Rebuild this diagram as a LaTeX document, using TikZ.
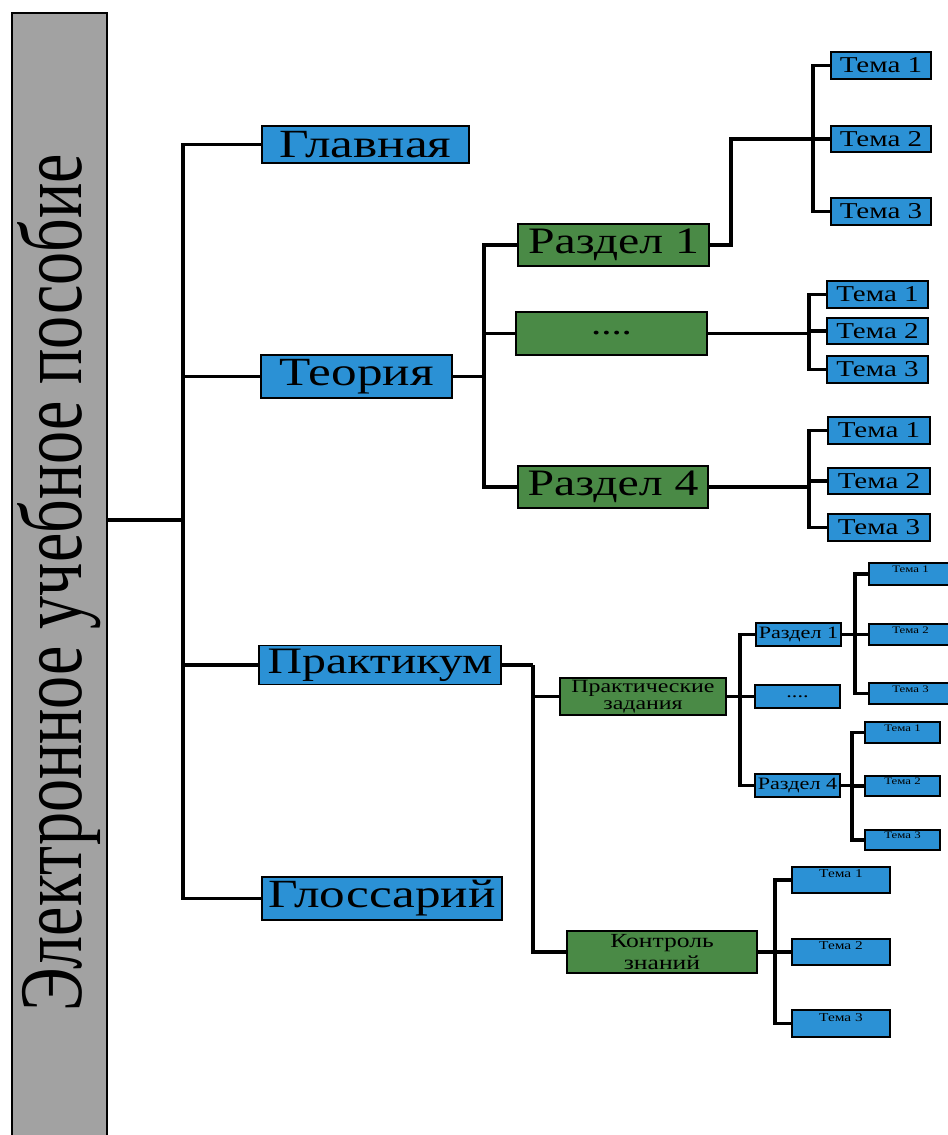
\documentclass[tikz,border=0pt]{standalone}
\usepackage{fontspec}
\setmainfont{Liberation Serif}
\newfontfamily\widefont[FakeStretch=1.28]{Liberation Serif}
\newfontfamily\narrowfont[FakeStretch=0.74]{Liberation Serif}
\definecolor{cblue}{HTML}{2B91D5}
\definecolor{cgreen}{HTML}{4A8A46}
\definecolor{cgray}{HTML}{A2A2A2}
\newcommand\fTitle{\narrowfont\fontsize{67}{67}\selectfont}
\newcommand\fMain{\widefont\fontsize{30}{30}\selectfont}
\newcommand\fPrak{\widefont\fontsize{28}{28}\selectfont}
\newcommand\fSec{\widefont\fontsize{28}{28}\selectfont}
\newcommand\fDots{\widefont\fontsize{24}{24}\selectfont}
\newcommand\fTopic{\widefont\fontsize{17}{17}\selectfont}
\newcommand\fPz{\widefont\fontsize{14}{13}\selectfont}
\newcommand\fKz{\widefont\fontsize{15}{16}\selectfont}
\newcommand\fSmall{\widefont\fontsize{13}{13}\selectfont}
\newcommand\fTiny{\widefont\fontsize{7.5}{7.5}\selectfont}
\newcommand\fCtl{\widefont\fontsize{9}{9}\selectfont}
\tikzset{
  bx/.style={draw=black, line width=1.3pt, inner sep=0pt, text=black},
  bl/.style={bx, fill=cblue},
  gr/.style={bx, fill=cgreen},
  conn/.style={line width=2.4pt, draw=black},
}
\begin{document}
\begin{tikzpicture}[x=0.75pt,y=-0.75pt]
\useasboundingbox (0,0) rectangle (948,1135);

% title
\node[bx, fill=cgray, line width=2.2pt, rotate=90, minimum width=855pt, minimum height=71.25pt,
      font=\fTitle] (title) at (59.5,583) {Электронное учебное пособие};

% level 1
\node[bl, minimum width=155.25pt, minimum height=27.75pt, font=\fMain] (glav) at (365.5,144.5) {Главная};
\node[bl, minimum width=143.25pt, minimum height=32.25pt, font=\fMain] (teor) at (356.5,376.5) {Теория};
\node[bl, minimum width=181.5pt, minimum height=29.25pt, font=\fPrak] (prak) at (380,665) {Практикум};
\node[bl, minimum width=180pt, minimum height=32.25pt, font=\fMain] (glos) at (382,898.5) {Глоссарий};

% theory sections
\node[gr, minimum width=143.25pt, minimum height=31.5pt, font=\fSec] (r1) at (613.5,245) {Раздел 1};
\node[gr, minimum width=143.25pt, minimum height=32.25pt, font=\fDots] (rd) at (611.5,333.5) {....};
\node[gr, minimum width=142.5pt, minimum height=31.5pt, font=\fSec] (r4) at (613,487) {Раздел 4};

% theory topics
\node[bl, minimum width=75pt, minimum height=20.25pt, font=\fTopic] (a1) at (881,65.5) {Тема 1};
\node[bl, minimum width=75pt, minimum height=19.5pt, font=\fTopic] (a2) at (881,139) {Тема 2};
\node[bl, minimum width=75pt, minimum height=20.25pt, font=\fTopic] (a3) at (881,211.5) {Тема 3};
\node[bl, minimum width=75.75pt, minimum height=20.25pt, font=\fTopic] (b1) at (877.5,294.5) {Тема 1};
\node[bl, minimum width=75.75pt, minimum height=19.5pt, font=\fTopic] (b2) at (877.5,331) {Тема 2};
\node[bl, minimum width=75.75pt, minimum height=20.25pt, font=\fTopic] (b3) at (877.5,369.5) {Тема 3};
\node[bl, minimum width=76.5pt, minimum height=20.25pt, font=\fTopic] (c1) at (879,430.5) {Тема 1};
\node[bl, minimum width=76.5pt, minimum height=19.5pt, font=\fTopic] (c2) at (879,481) {Тема 2};
\node[bl, minimum width=76.5pt, minimum height=20.25pt, font=\fTopic] (c3) at (879,527.5) {Тема 3};

% practicum
\node[gr, minimum width=124.5pt, minimum height=27.75pt, align=center, font=\fPz] (pz) at (643,696.5) {Практические\\задания};
\node[gr, minimum width=142.5pt, minimum height=31.5pt, align=center, font=\fKz] (kz) at (662,952) {Контроль\\знаний};

\node[bl, minimum width=63.75pt, minimum height=17.25pt, font=\fSmall] (s1) at (798.5,634.5) {Раздел 1};
\node[bl, minimum width=63.75pt, minimum height=17.25pt, font=\fSmall] (sd) at (797.5,696.5) {....};
\node[bl, minimum width=63.75pt, minimum height=17.25pt, font=\fSmall] (s4) at (797.5,785.5) {Раздел 4};

\node[bl, minimum width=62.25pt, minimum height=16.5pt, font=\fTiny, text depth=7pt] (d1) at (910.5,574) {Тема 1};
\node[bl, minimum width=62.25pt, minimum height=15.75pt, font=\fTiny, text depth=7pt] (d2) at (910.5,634.5) {Тема 2};
\node[bl, minimum width=62.25pt, minimum height=15.75pt, font=\fTiny, text depth=7pt] (d3) at (910.5,693.5) {Тема 3};
\node[bl, minimum width=56.25pt, minimum height=15.75pt, font=\fTiny, text depth=7pt] (e1) at (902.5,732.5) {Тема 1};
\node[bl, minimum width=56.25pt, minimum height=15pt, font=\fTiny, text depth=7pt] (e2) at (902.5,786) {Тема 2};
\node[bl, minimum width=56.25pt, minimum height=15pt, font=\fTiny, text depth=7pt] (e3) at (902.5,840) {Тема 3};

\node[bl, minimum width=73.5pt, minimum height=19.5pt, font=\fCtl, text depth=9pt] (f1) at (841,880) {Тема 1};
\node[bl, minimum width=73.5pt, minimum height=19.5pt, font=\fCtl, text depth=9pt] (f2) at (841,952) {Тема 2};
\node[bl, minimum width=73.5pt, minimum height=20.25pt, font=\fCtl, text depth=9pt] (f3) at (841,1023.5) {Тема 3};

% junctions
\coordinate (t0) at (183,520);
\coordinate (t1) at (484,376.5);
\coordinate (t2) at (731,139);
\coordinate (t2b) at (813,139);
\coordinate (t3) at (809,333.5);
\coordinate (t4) at (809,484);
\coordinate (t5) at (533,665);
\coordinate (t6) at (740,696.5);
\coordinate (t7) at (855,634.5);
\coordinate (t8) at (852,785.5);
\coordinate (t9) at (775,952);

% connectors
\draw[conn] (title.south |- t0) -- (t0);
\draw[conn] (t0) |- (glav.west);
\draw[conn] (t0) |- (teor.west);
\draw[conn] (t0) |- (prak.west);
\draw[conn] (t0) |- (glos.west);

\draw[conn] (teor.east) -- (t1);
\draw[conn] (t1) |- (r1.west);
\draw[conn] (t1) |- (rd.west);
\draw[conn] (t1) |- (r4.west);

\draw[conn] (r1.east) -| (t2) -- (t2b);
\draw[conn] (t2b) |- (a1.west);
\draw[conn] (t2b) |- (a2.west);
\draw[conn] (t2b) |- (a3.west);

\draw[conn] (rd.east) -- (t3);
\draw[conn] (t3) |- (b1.west);
\draw[conn] (t3) |- (b2.west);
\draw[conn] (t3) |- (b3.west);

\draw[conn] (r4.east) -- (r4.east -| t4);
\draw[conn] (t4) |- (c1.west);
\draw[conn] (t4) |- (c2.west);
\draw[conn] (t4) |- (c3.west);

\draw[conn] (prak.east) -- (t5);
\draw[conn] (t5) |- (pz.west);
\draw[conn] (t5) |- (kz.west);

\draw[conn] (pz.east) -- (t6);
\draw[conn] (t6) |- (s1.west);
\draw[conn] (t6) |- (sd.west);
\draw[conn] (t6) |- (s4.west);

\draw[conn] (s1.east) -- (t7);
\draw[conn] (t7) |- (d1.west);
\draw[conn] (t7) |- (d2.west);
\draw[conn] (t7) |- (d3.west);

\draw[conn] (s4.east) -- (t8);
\draw[conn] (t8) |- (e1.west);
\draw[conn] (t8) |- (e2.west);
\draw[conn] (t8) |- (e3.west);

\draw[conn] (kz.east) -- (t9);
\draw[conn] (t9) |- (f1.west);
\draw[conn] (t9) |- (f2.west);
\draw[conn] (t9) |- (f3.west);
\end{tikzpicture}
\end{document}
